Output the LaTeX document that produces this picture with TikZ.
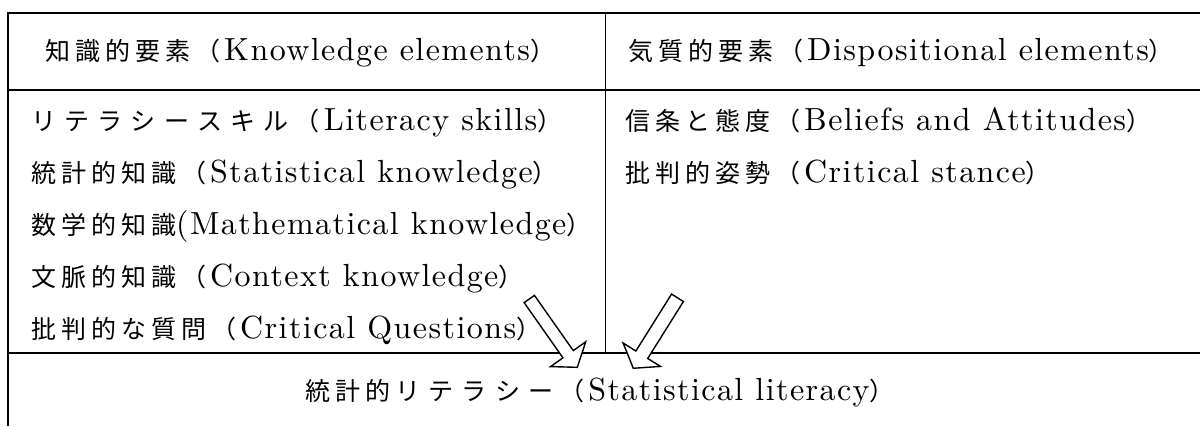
\documentclass[tikz,border=0pt]{standalone}
\usepackage{fontspec}
\newfontfamily\jp{Noto Sans CJK JP}[LetterSpace=20, Kerning=Off]
\newfontfamily\jpk{Noto Sans CJK JP}[LetterSpace=33, Kerning=Off]
\newfontfamily\lat{lmroman10-regular}[Extension=.otf, LetterSpace=4.5]
\newcommand\J[1]{{\jp\fontsize{25pt}{28pt}\selectfont #1}}
\newcommand\K[1]{{\jpk\fontsize{25pt}{28pt}\selectfont #1}}
\newcommand\E[1]{{\lat\fontsize{32pt}{36pt}\selectfont #1}}
\newcommand\Ep[1]{\hspace{4pt}\E{#1}}
\tikzset{
  txt/.style={anchor=base west, inner sep=0pt},
  ctxt/.style={anchor=base, inner sep=0pt},
  rule/.style={line width=1.6pt, line join=miter},
  blockarrow/.style={draw, fill=white, line width=1.4pt, line join=miter}
}
\begin{document}
\begin{tikzpicture}[x=1pt, y=-1pt]
\useasboundingbox (0,0) rectangle (1200,426);
% table rules
\draw[rule] (1200,13) -- (8,13) -- (8,426);
\draw[rule] (8,90) -- (1200,90);
\draw[rule] (8,353) -- (1200,353);
\draw[rule] (605.5,13) -- (605.5,353);
% headers
\node[txt] (h1) at (45,60) {\J{知識的要素（}\Ep{Knowledge elements}\J{）}};
\node[txt] (h2) at (628,60) {\J{気質的要素（}\Ep{Dispositional elements}\J{）}};
% left column
\node[txt] (l1) at (31,130) {\K{リテラシースキル}\hspace{6pt}\J{（}\Ep{Literacy skills}\J{）}};
\node[txt] (l2) at (31,182) {\J{統計的知識（}\Ep{Statistical knowledge}\J{）}};
\node[txt] (l3) at (31,234) {\J{数学的知識}\E{(Mathematical knowledge}\J{）}};
\node[txt] (l4) at (31,286) {\J{文脈的知識（}\Ep{Context knowledge}\J{）}};
\node[txt] (l5) at (31,338) {\J{批判的な質問（}\Ep{Critical Questions}\J{）}};
% right column
\node[txt] (r1) at (625,130) {\J{信条と態度（}\Ep{Beliefs and Attitudes}\J{）}};
\node[txt] (r2) at (625,182) {\J{批判的姿勢（}\Ep{Critical stance}\J{）}};
% bottom
\node[ctxt] (b) at (600,400) {\J{統計的}\hspace{5pt}\K{リテラシー}\hspace{6pt}\J{（}\Ep{Statistical literacy}\J{）}};
% block arrows
\coordinate (a1) at (529.3,299);
\coordinate (a2) at (677.5,297.8);
\begin{scope}[shift={(a1)}, rotate=-54.9]
  \path[blockarrow] (0,-6.3) -- (67.5,-6.3) -- (67.5,-21.5) -- (83.5,0) -- (67.5,21.5) -- (67.5,6.3) -- (0,6.3) -- cycle;
\end{scope}
\begin{scope}[shift={(a2)}, rotate=-122.1]
  \path[blockarrow] (0,-7) -- (67.2,-7) -- (67.2,-22) -- (83.2,0) -- (67.2,22) -- (67.2,7) -- (0,7) -- cycle;
\end{scope}
\end{tikzpicture}
\end{document}
